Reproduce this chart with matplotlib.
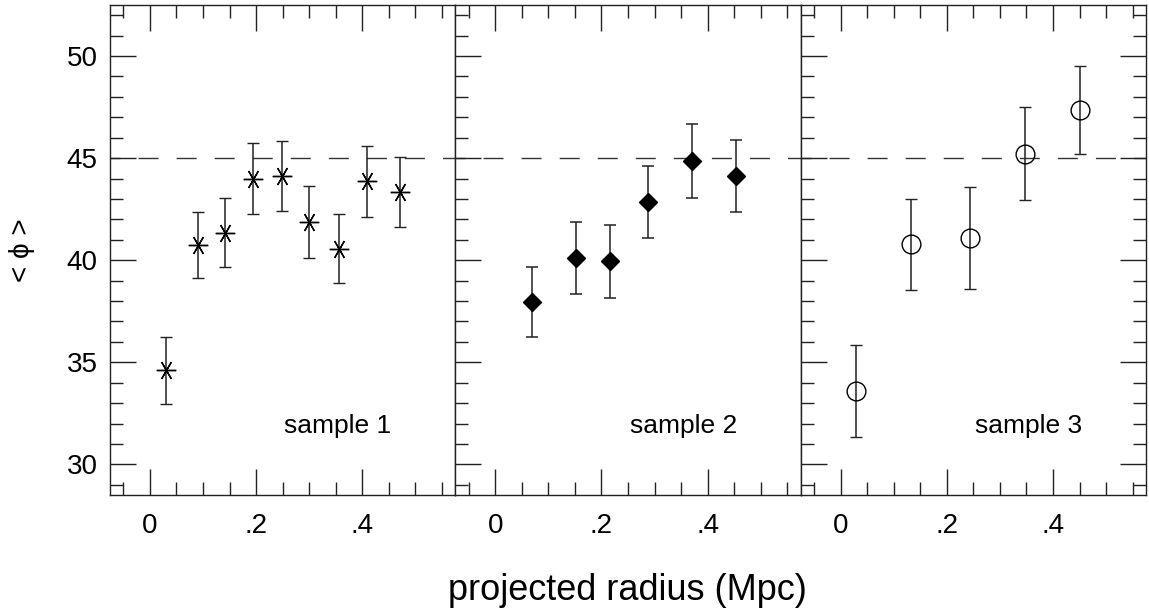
import matplotlib
matplotlib.use("Agg")
import matplotlib.pyplot as plt
from matplotlib.ticker import MultipleLocator, FixedLocator

plt.rcParams['font.family'] = ['Liberation Sans', 'DejaVu Sans']

# sample 1 (asterisks)
r1 = [0.031, 0.091, 0.141, 0.194, 0.248, 0.299, 0.356, 0.408, 0.471]
phi1 = [34.6, 40.75, 41.35, 44.0, 44.12, 41.88, 40.55, 43.87, 43.35]
err1 = [1.65, 1.6, 1.7, 1.74, 1.73, 1.77, 1.69, 1.73, 1.72]

# sample 2 (filled diamonds)
r2 = [0.069, 0.153, 0.217, 0.288, 0.370, 0.454]
phi2 = [37.95, 40.1, 39.95, 42.85, 44.85, 44.12]
err2 = [1.71, 1.75, 1.79, 1.75, 1.8, 1.77]

# sample 3 (open circles)
r3 = [0.029, 0.132, 0.244, 0.348, 0.450]
phi3 = [33.6, 40.78, 41.1, 45.22, 47.35]
err3 = [2.25, 2.22, 2.5, 2.26, 2.17]

labels = ["sample 1", "sample 2", "sample 3"]
xticks = [0, 0.2, 0.4]
xticklabels = ["0", ".2", ".4"]
yticks = [30, 35, 40, 45, 50]

fig = plt.figure(figsize=(11.49, 6.13), dpi=100)
L, R, B, T = 110 / 1149, 1146 / 1149, 1 - 495 / 613, 1 - 5 / 613
w = (R - L) / 3
axes = [fig.add_axes([L + i * w, B, w, T - B]) for i in range(3)]

ink = "#222222"
styles = [
    dict(marker=(6, 2, 90), ms=14, mec="black", mew=1.0),
    dict(marker="D", ms=9.5, mfc="black", mec="black"),
    dict(marker="o", ms=13.5, mfc="none", mec="black", mew=1.0),
]
data = [(r1, phi1, err1), (r2, phi2, err2), (r3, phi3, err3)]

for i, ax in enumerate(axes):
    r, p, e = data[i]
    ax.axhline(45, color="#333333", lw=1.0, ls=(7.2, (14.4, 13)), zorder=1)
    ax.errorbar(r, p, yerr=e, ls="none", ecolor=ink, elinewidth=1.1,
                capsize=4.5, capthick=1.1, zorder=3, **styles[i])
    ax.set_xlim(-0.075, 0.575)
    ax.set_ylim(28.5, 52.5)
    ax.xaxis.set_major_locator(FixedLocator(xticks))
    ax.set_xticklabels(xticklabels)
    ax.xaxis.set_minor_locator(MultipleLocator(0.05))
    ax.yaxis.set_major_locator(FixedLocator(yticks))
    ax.yaxis.set_minor_locator(MultipleLocator(1))
    ax.tick_params(which="both", direction="in", top=True, bottom=True,
                   left=True, right=(i == 2), color=ink, width=1.0)
    ax.tick_params(which="major", length=19, labelsize=20, pad=13)
    ax.tick_params(axis="y", which="major", pad=9)
    ax.tick_params(which="minor", length=9.5)
    if i > 0:
        ax.tick_params(axis="y", labelleft=False)
    for s in ax.spines.values():
        s.set_color(ink)
        s.set_linewidth(1.0)
    ax.text(0.66, 0.14, labels[i], transform=ax.transAxes, ha="center",
            va="center", fontsize=19)

fig.text(22 / 1149, 1 - 250 / 613, "< ϕ >", rotation=90, ha="center",
         va="center", fontsize=20)
fig.text(627 / 1149, 1 - 590 / 613, "projected radius (Mpc)", ha="center",
         va="center", fontsize=26)

fig.savefig("out.png", dpi=100)
